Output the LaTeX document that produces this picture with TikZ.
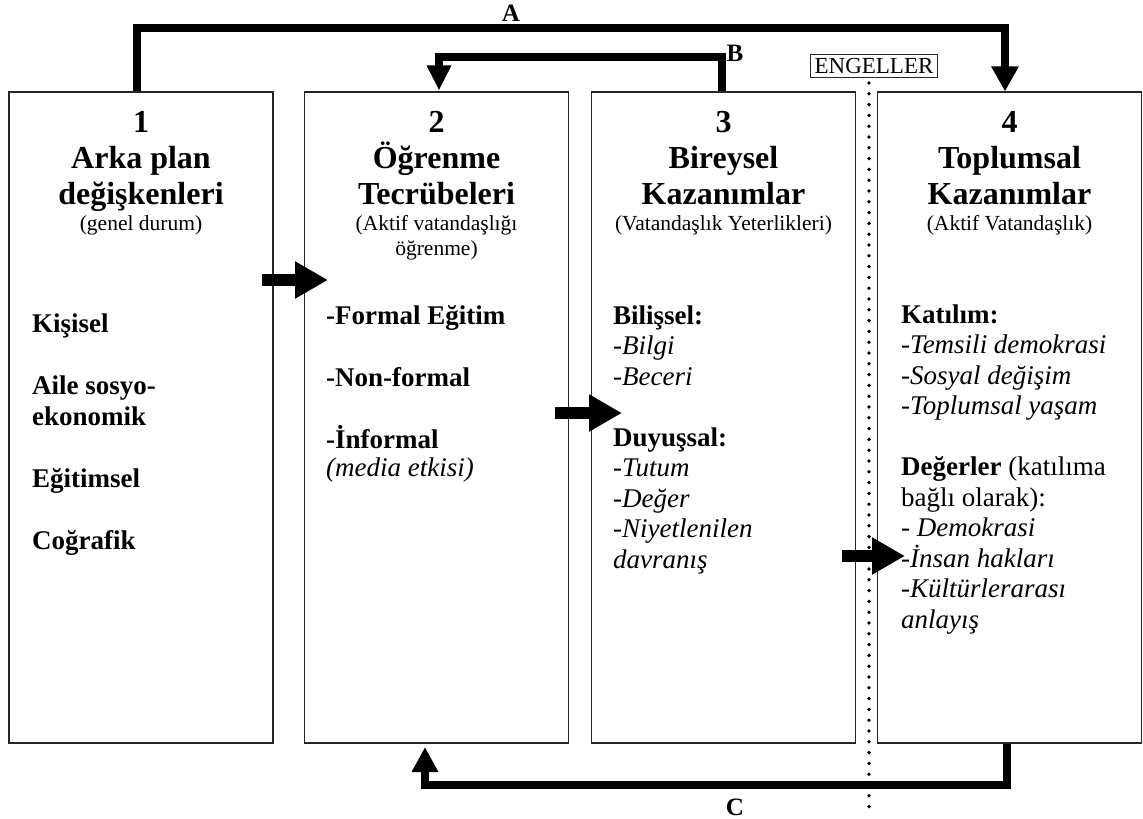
\documentclass[tikz,border=0pt]{standalone}
\usepackage{fontspec}
\setmainfont{Liberation Serif}
\usetikzlibrary{arrows.meta}

\begin{document}
\begin{tikzpicture}[x=1pt,y=-1pt,
  box/.style={draw=black!85,line width=1.2pt,minimum width=264pt,minimum height=651pt,inner sep=0pt},
  % multi-line nodes sit on the baseline of their last line
  title/.style={anchor=base,align=center,font=\fontsize{32}{36}\selectfont\bfseries,inner sep=0pt},
  subtitle/.style={anchor=base,align=center,font=\fontsize{21.5}{25}\selectfont,inner sep=0pt},
  body/.style={anchor=base west,align=left,font=\fontsize{27}{30.5}\selectfont,inner sep=0pt},
  route/.style={line width=8pt},
  routetip/.style={-{Triangle[length=25pt,width=26pt]}},
  blk/.style={line width=12pt,-{Triangle[length=33pt,width=35pt]}},
  lbl/.style={font=\fontsize{25}{28}\selectfont\bfseries,inner sep=0pt},
  barrier/.style={line width=3.8pt,line cap=round,dash pattern=on 0pt off 10.8pt}
]
\fill[white] (0,0) rectangle (1143,819);
\useasboundingbox (0,0) rectangle (1143,819);

% the four stages
\node[box] (b1) at (141,417.5) {};
\node[box] (b2) at (436.5,417.5) {};
\node[box] (b3) at (723.5,417.5) {};
\node[box] (b4) at (1009.5,417.5) {};

% headings
\node[title] (t1) at (141,204) {1\\Arka plan\\değişkenleri};
\node[subtitle] (s1) at (141,230) {(genel durum)};
\node[title] (t2) at (436.5,204) {2\\Öğrenme\\Tecrübeleri};
\node[subtitle] (s2) at (436.5,255) {(Aktif vatandaşlığı\\öğrenme)};
\node[title] (t3) at (723.5,204) {3\\Bireysel\\Kazanımlar};
\node[subtitle] (s3) at (723.5,230) {(Vatandaşlık Yeterlikleri)};
\node[title] (t4) at (1009.5,204) {4\\Toplumsal\\Kazanımlar};
\node[subtitle] (s4) at (1009.5,230) {(Aktif Vatandaşlık)};

% contents
\node[body,font=\fontsize{27}{31}\selectfont\bfseries] (c1) at (32,549)
  {Kişisel\\[31pt]Aile sosyo-\\ekonomik\\[31pt]Eğitimsel\\[31pt]Coğrafik};
\node[body,font=\fontsize{27}{31}\selectfont\bfseries] (c2) at (326,476)
  {-Formal Eğitim\\[31pt]-Non-formal\\[31pt]-İnformal\\[-3pt]\mdseries\itshape (media etkisi)};
\node[body] (c3) at (613,568)
  {\textbf{Bilişsel:}\\\textit{-Bilgi}\\\textit{-Beceri}\\[30.5pt]\textbf{Duyuşsal:}\\\textit{-Tutum}\\\textit{-Değer}\\\textit{-Niyetlenilen}\\\textit{davranış}};
\node[body] (c4) at (901,628)
  {\textbf{Katılım:}\\\textit{-Temsili demokrasi}\\\textit{-Sosyal değişim}\\\textit{-Toplumsal yaşam}\\[30.5pt]\textbf{Değerler} (katılıma\\bağlı olarak):\\- \textit{Demokrasi}\\-\textit{İnsan hakları}\\-\textit{Kültürlerarası}\\\textit{anlayış}};

% barrier between individual and social outcomes
\node[draw=black!85,line width=1pt,inner xsep=4pt,inner ysep=4pt,text height=15.5pt,text depth=0pt,
      font=\fontsize{23}{27}\selectfont] (eng) at (874,66) {ENGELLER};
\coordinate (dTop) at (869,83);
\coordinate (dBot) at (869,814);
\draw[barrier] (dTop) -- (dBot);

% feedback routes
\coordinate (aL) at (137,28);
\coordinate (aR) at (1005,28);
\draw[route,routetip] (b1.north -| aL) -- (aL) -- (aR) -- (b4.north -| aR);
\node[lbl] (la) at (511,13) {A};

\coordinate (bR) at (722,57);
\coordinate (bL) at (439,57);
\draw[line width=7.5pt,-{Triangle[length=25pt,width=23pt]}] (b3.north -| bR) -- (bR) -- (bL) -- ([yshift=1pt]b2.north -| bL);
\node[lbl] (lb) at (735,53) {B};

\coordinate (cR) at (1007,785);
\coordinate (cL) at (425,785);
\coordinate (cEnd) at (425,747);
\draw[route,-{Triangle[length=25pt,width=25pt]}] (b4.south -| cR) -- (cR) -- (cL) -- (cEnd);
\node[lbl] (lc) at (735,807) {C};

% forward flow between stages
\coordinate (f1a) at (262,280);
\coordinate (f1b) at (328,280);
\coordinate (f2a) at (555,413);
\coordinate (f2b) at (622,413);
\coordinate (f3a) at (842,556);
\coordinate (f3b) at (905,556);
\draw[blk] (f1a) -- (f1b);
\draw[blk] (f2a) -- (f2b);
\draw[blk] (f3a) -- (f3b);
\end{tikzpicture}
\end{document}
